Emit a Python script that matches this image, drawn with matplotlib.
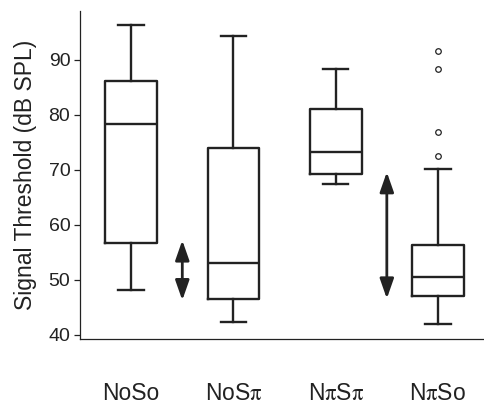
import matplotlib
matplotlib.use("Agg")
import matplotlib.pyplot as plt
from matplotlib.patches import FancyArrowPatch

plt.rcParams["font.family"] = ["Liberation Sans", "DejaVu Sans"]
plt.rcParams["mathtext.fontset"] = "stix"

# box statistics (dB SPL)
conditions = ["NoSo", r"NoS$\mathrm{\pi}$", r"N$\mathrm{\pi}$S$\mathrm{\pi}$", r"N$\mathrm{\pi}$So"]
whisker_low = [48.1, 42.4, 67.5, 42.0]
q1 = [56.7, 46.5, 69.3, 47.0]
median = [78.4, 53.1, 73.2, 50.5]
q3 = [86.2, 73.9, 81.1, 56.3]
whisker_high = [96.4, 94.4, 88.4, 70.2]
outliers = [[], [], [], [91.6, 88.3, 76.9, 72.5]]

# double arrows between groups: x position, low end, high end
arrow_x = [1.5, 3.5]
arrow_low = [46.3, 46.6]
arrow_high = [57.2, 69.6]

INK = "#222222"

stats = []
for i, name in enumerate(conditions):
    stats.append({
        "label": name, "whislo": whisker_low[i], "q1": q1[i], "med": median[i],
        "q3": q3[i], "whishi": whisker_high[i], "fliers": outliers[i],
    })

fig = plt.figure(figsize=(4.85, 4.04), dpi=100)
ax = fig.add_axes([0.165, 0.161, 0.835, 0.812])

line = dict(color=INK, linewidth=1.7)
ax.bxp(
    stats, positions=range(1, len(conditions) + 1), widths=0.505,
    boxprops=line, whiskerprops=line, capprops=line, medianprops=line,
    flierprops=dict(marker="o", markersize=4, markerfacecolor="none",
                    markeredgecolor=INK, markeredgewidth=0.9),
    capwidths=0.25, showfliers=True,
)

for x, lo, hi in zip(arrow_x, arrow_low, arrow_high):
    arr = FancyArrowPatch(
        (x, lo), (x, hi),
        arrowstyle="<|-|>,head_length=1.2,head_width=0.42",
        mutation_scale=10, color=INK, linewidth=2.0,
        shrinkA=0, shrinkB=0,
    )
    ax.add_patch(arr)

ax.set_xlim(0.5, 4.46)
ax.set_ylim(39.27, 98.9)
ax.set_yticks([40, 50, 60, 70, 80, 90])
ax.set_ylabel("Signal Threshold (dB SPL)", fontsize=16.5, color=INK, labelpad=8)

ax.spines["top"].set_visible(False)
ax.spines["right"].set_visible(False)
for s in ("left", "bottom"):
    ax.spines[s].set_color(INK)
    ax.spines[s].set_linewidth(0.9)

ax.tick_params(axis="y", labelsize=14, colors=INK, length=4, width=0.9, pad=3)
ax.tick_params(axis="x", labelsize=16.5, colors=INK, length=0, pad=31)

fig.savefig("out.png", dpi=100)
